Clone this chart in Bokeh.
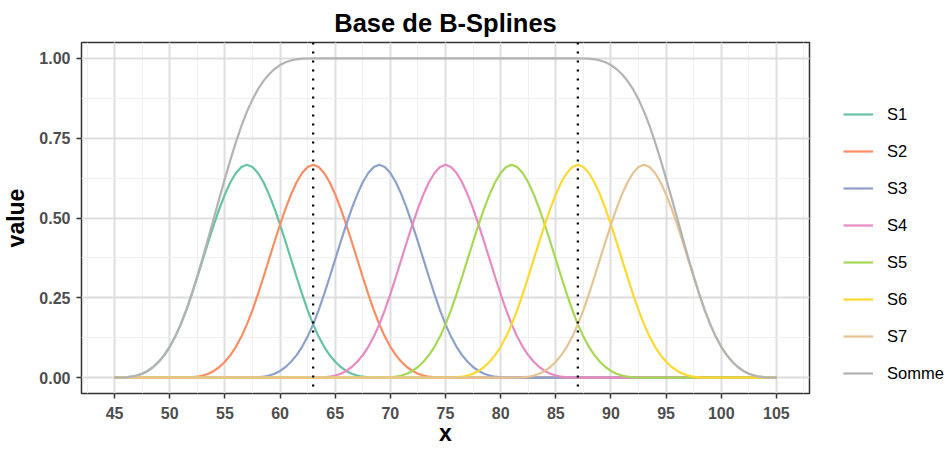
from bokeh.plotting import figure
from bokeh.models import (Legend, LegendItem, Span, SingleIntervalTicker,
                          PrintfTickFormatter, Range1d)
from bokeh.embed import file_html
from bokeh.resources import INLINE

# ---- data -------------------------------------------------------------
series_names = ["S1", "S2", "S3", "S4", "S5", "S6", "S7"]
sum_name = "Somme"
# left end of each basis function's support
starts = [45, 51, 57, 63, 69, 75, 81]
# sampled shape of one cubic B-spline (support width 24), every 0.5 unit
bump = [0.0, 0.000096, 0.000772, 0.002604, 0.006173, 0.012056, 0.020833,
        0.033083, 0.049383, 0.070313, 0.096451, 0.128376, 0.166667,
        0.211516, 0.261574, 0.315104, 0.370370, 0.425637, 0.479167,
        0.529225, 0.574074, 0.611979, 0.641204, 0.660012, 0.666667,
        0.660012, 0.641204, 0.611979, 0.574074, 0.529225, 0.479167,
        0.425637, 0.370370, 0.315104, 0.261574, 0.211516, 0.166667,
        0.128376, 0.096451, 0.070313, 0.049383, 0.033083, 0.020833,
        0.012056, 0.006173, 0.002604, 0.000772, 0.000096, 0.0]
x_min, x_max, x_step = 45, 105, 0.5
knot_lines = [63, 87]

colors = ["#66C2A5", "#FC8D62", "#8DA0CB", "#E78AC3", "#A6D854",
          "#FFD92F", "#E5C494", "#B3B3B3"]

# ---- build series on a common grid -----------------------------------
n = int(round((x_max - x_min) / x_step)) + 1
xs = [x_min + i * x_step for i in range(n)]
series = []
for s in starts:
    vals = [0.0] * n
    off = int(round((s - x_min) / x_step))
    for j, b in enumerate(bump):
        if 0 <= off + j < n:
            vals[off + j] = b
    series.append(vals)
somme = [sum(col) for col in zip(*series)]

FONT = "Liberation Sans"

p = figure(frame_width=728, frame_height=351, output_backend="svg",
           toolbar_location=None,
           x_range=Range1d(42, 108), y_range=Range1d(-0.05, 1.05),
           min_border=0, title="Base de B-Splines",
           x_axis_label="x", y_axis_label="value")
p.background_fill_color = "white"
p.border_fill_color = "white"
p.outline_line_color = "#333333"
p.outline_line_width = 1.5

p.title.text_font = FONT
p.title.text_font_size = "25.5px"
p.title.text_font_style = "bold"
p.title.align = "center"
p.title.text_color = "black"
p.title.standoff = 12

xt = SingleIntervalTicker(interval=5, num_minor_ticks=2)
yt = SingleIntervalTicker(interval=0.25, num_minor_ticks=2)
p.xaxis.ticker = xt
p.yaxis.ticker = yt
p.xgrid.ticker = xt
p.ygrid.ticker = yt
p.yaxis.formatter = PrintfTickFormatter(format="%.2f")

for ax in (p.xaxis, p.yaxis):
    ax.axis_line_color = None
    ax.major_tick_line_color = "#333333"
    ax.major_tick_line_width = 1.5
    ax.major_tick_out = 5
    ax.major_tick_in = 0
    ax.minor_tick_line_color = None
    ax.major_label_text_font = FONT
    ax.major_label_text_font_size = "16px"
    ax.major_label_text_font_style = "bold"
    ax.major_label_text_color = "#4D4D4D"
    ax.axis_label_text_font = FONT
    ax.axis_label_text_font_size = "23px"
    ax.axis_label_text_font_style = "bold"
    ax.axis_label_text_color = "black"
p.xaxis.major_label_standoff = 8
p.yaxis.major_label_standoff = 6
p.xaxis.axis_label_standoff = -2
p.yaxis.axis_label_standoff = 7

for g in (p.xgrid, p.ygrid):
    g.grid_line_color = "#DEDEDE"
    g.grid_line_width = 2
    g.minor_grid_line_color = "#F0F0F0"
    g.minor_grid_line_width = 1

renderers = []
for vals, c in zip(series, colors[:7]):
    renderers.append(p.line(xs, vals, line_color=c, line_width=2.2))
renderers.append(p.line(xs, somme, line_color=colors[7], line_width=2.2))

for k in knot_lines:
    p.add_layout(Span(location=k, dimension="height", line_color="black",
                      line_width=2.3, line_dash="2 7"))

items = [LegendItem(label=nm, renderers=[r])
         for nm, r in zip(series_names + [sum_name], renderers)]
legend = Legend(items=items, location=(34, 10))
legend.border_line_alpha = 0
legend.background_fill_alpha = 0
legend.padding = 0
legend.margin = 0
legend.glyph_width = 30
legend.glyph_height = 20
legend.label_height = 20
legend.spacing = 17
legend.label_standoff = 14
legend.label_text_font = FONT
legend.label_text_font_size = "16.5px"
legend.label_text_color = "black"
p.add_layout(legend, "right")

open("out.html", "w").write(file_html(p, INLINE))
